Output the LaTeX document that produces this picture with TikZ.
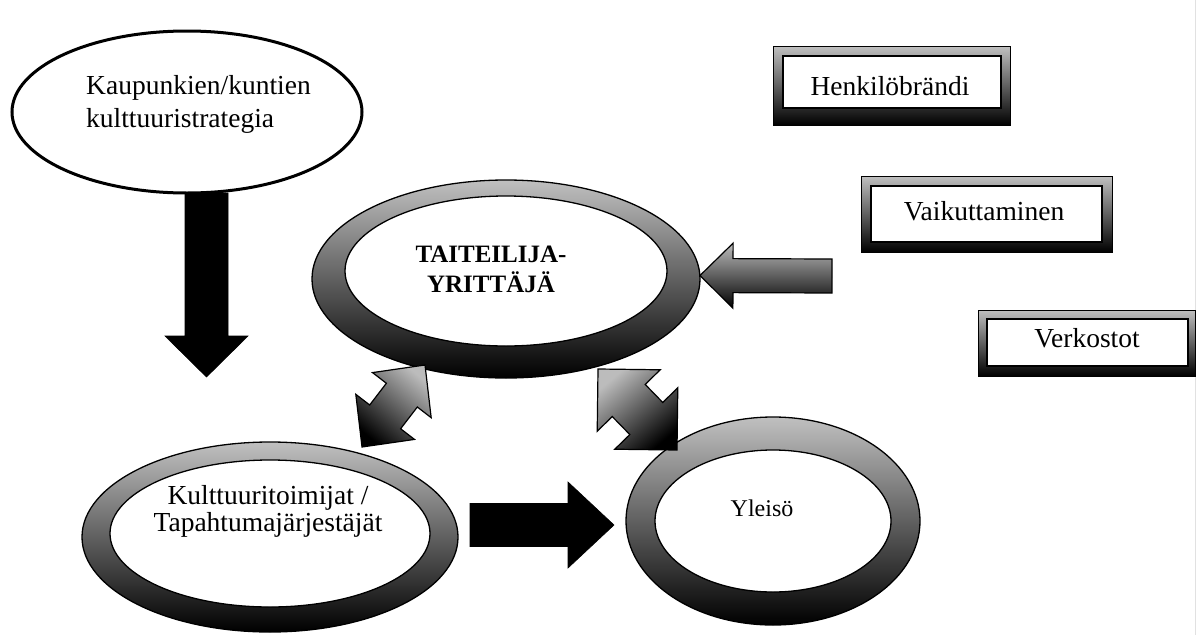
\documentclass[tikz,border=0pt]{standalone}
\usepackage{fontspec}
\setmainfont{Liberation Serif}
\usetikzlibrary{calc}

\definecolor{shadelight}{RGB}{192,192,192}
\definecolor{arrowlight}{RGB}{188,188,188}
\definecolor{edgegray}{RGB}{225,225,225}

\tikzset{
  ring/.style={draw=black, line width=1.3pt, top color=shadelight, bottom color=black, even odd rule},
  framebox/.style={draw=black, line width=1pt, top color=shadelight, bottom color=black},
  innerbox/.style={draw=black, line width=1.2pt, fill=white},
  solidarrow/.style={fill=black, draw=black, line width=0.6pt, line join=miter},
  grayarrow/.style={draw=black, line width=1.2pt, line join=miter, top color=arrowlight, bottom color=black},
  txt/.style={inner sep=0pt, font=\fontsize{27.5}{33}\selectfont},
}

% block arrow from tail #2 to tip #3: head length #4, head half-width #5, shaft half-width #6
\newcommand{\singleblock}[6]{%
  \path[#1] ($(#2)!#6!90:(#3)$)
    -- ($(#3)!#4!(#2)!#6!90:(#3)$)
    -- ($(#3)!#4!(#2)!#5!90:(#3)$)
    -- (#3)
    -- ($(#3)!#4!(#2)!#5!-90:(#3)$)
    -- ($(#3)!#4!(#2)!#6!-90:(#3)$)
    -- ($(#2)!#6!-90:(#3)$) -- cycle;}

% two-headed block arrow between ends #2 and #3
\newcommand{\doubleblock}[6]{%
  \path[#1] (#2)
    -- ($(#2)!#4!(#3)!#5!90:(#3)$)
    -- ($(#2)!#4!(#3)!#6!90:(#3)$)
    -- ($(#3)!#4!(#2)!#6!-90:(#2)$)
    -- ($(#3)!#4!(#2)!#5!-90:(#2)$)
    -- (#3)
    -- ($(#3)!#4!(#2)!#5!90:(#2)$)
    -- ($(#3)!#4!(#2)!#6!90:(#2)$)
    -- ($(#2)!#4!(#3)!#6!-90:(#3)$)
    -- ($(#2)!#4!(#3)!#5!-90:(#3)$) -- cycle;}

\begin{document}
\begin{tikzpicture}[x=1pt, y=-1pt]
  \useasboundingbox (0,0) rectangle (1197,635);
  \fill[white] (0,0) rectangle (1197,635);
  \draw[edgegray, line width=1.5pt] (1195.5,0) -- (1195.5,635);

  % centres of the ellipses
  \coordinate (strat) at (187,112);
  \coordinate (core) at (506,279);
  \coordinate (core-in) at (506,271);
  \coordinate (org) at (270,537);
  \coordinate (org-in) at (270,533.5);
  \coordinate (aud) at (773,521);

  % municipal strategy
  \draw[line width=3pt, fill=white] (strat) ellipse [x radius=175pt, y radius=81pt];
  \node[txt, align=left, anchor=north west] (strat-text) at (86,75) {Kaupunkien/kuntien\\kulttuuristrategia};

  % artist-entrepreneur
  \path[ring] (core) ellipse [x radius=194pt, y radius=99pt]
              (core-in) ellipse [x radius=161pt, y radius=75pt];
  \node[inner sep=0pt, font=\fontsize{25}{30}\selectfont\bfseries, align=center, anchor=north] (core-text) at (491,246) {TAITEILIJA-\\YRITTÄJÄ};

  % cultural operators
  \path[ring] (org) ellipse [x radius=188pt, y radius=95pt]
              (org-in) ellipse [x radius=160pt, y radius=73.5pt];
  \node[inner sep=0pt, font=\fontsize{27.5}{27}\selectfont, align=center, anchor=north] (org-text) at (268,485) {Kulttuuritoimijat /\\Tapahtumajärjestäjät};

  % audience
  \path[ring] (aud) ellipse [x radius=147pt, y radius=104pt]
              (aud) ellipse [x radius=118pt, y radius=71pt];
  \node[inner sep=0pt, font=\fontsize{24}{28}\selectfont, anchor=base] (aud-text) at (762,516) {Yleisö};

  % framed boxes
  \path[framebox] (773,46) rectangle (1010,125);
  \path[innerbox] (783,56) rectangle (1001,108);
  \node[txt, anchor=base] (brand) at (890,95) {Henkilöbrändi};

  \path[framebox] (861,176) rectangle (1112,252);
  \path[innerbox] (871,186) rectangle (1102,242);
  \node[txt, anchor=base] (influence) at (984,220) {Vaikuttaminen};

  \path[framebox] (978,310) rectangle (1195,376);
  \path[innerbox] (987,319) rectangle (1188,366);
  \node[txt, anchor=base] (networks) at (1087,347) {Verkostot};

  % arrow ends
  \coordinate (down-tail) at (206.5,193);
  \coordinate (down-tip) at (206.5,377);
  \coordinate (right-tail) at (470,525);
  \coordinate (right-tip) at (614,525);
  \coordinate (in-tail) at (832,276);
  \coordinate (in-tip) at (700,275.5);
  \coordinate (left-lo) at (362,447);
  \coordinate (left-hi) at (425,365);
  \coordinate (rt-hi) at (598,369);
  \coordinate (rt-lo) at (677,450);

  \singleblock{solidarrow}{down-tail}{down-tip}{41pt}{41.5pt}{21.5pt}
  \singleblock{solidarrow}{right-tail}{right-tip}{46pt}{43pt}{21.5pt}
  \singleblock{grayarrow}{in-tail}{in-tip}{33pt}{32.5pt}{17pt}
  \doubleblock{grayarrow, shading angle=-40}{left-lo}{left-hi}{38pt}{37pt}{19.5pt}
  \doubleblock{grayarrow, shading angle=40}{rt-hi}{rt-lo}{44pt}{44pt}{23pt}
\end{tikzpicture}
\end{document}
